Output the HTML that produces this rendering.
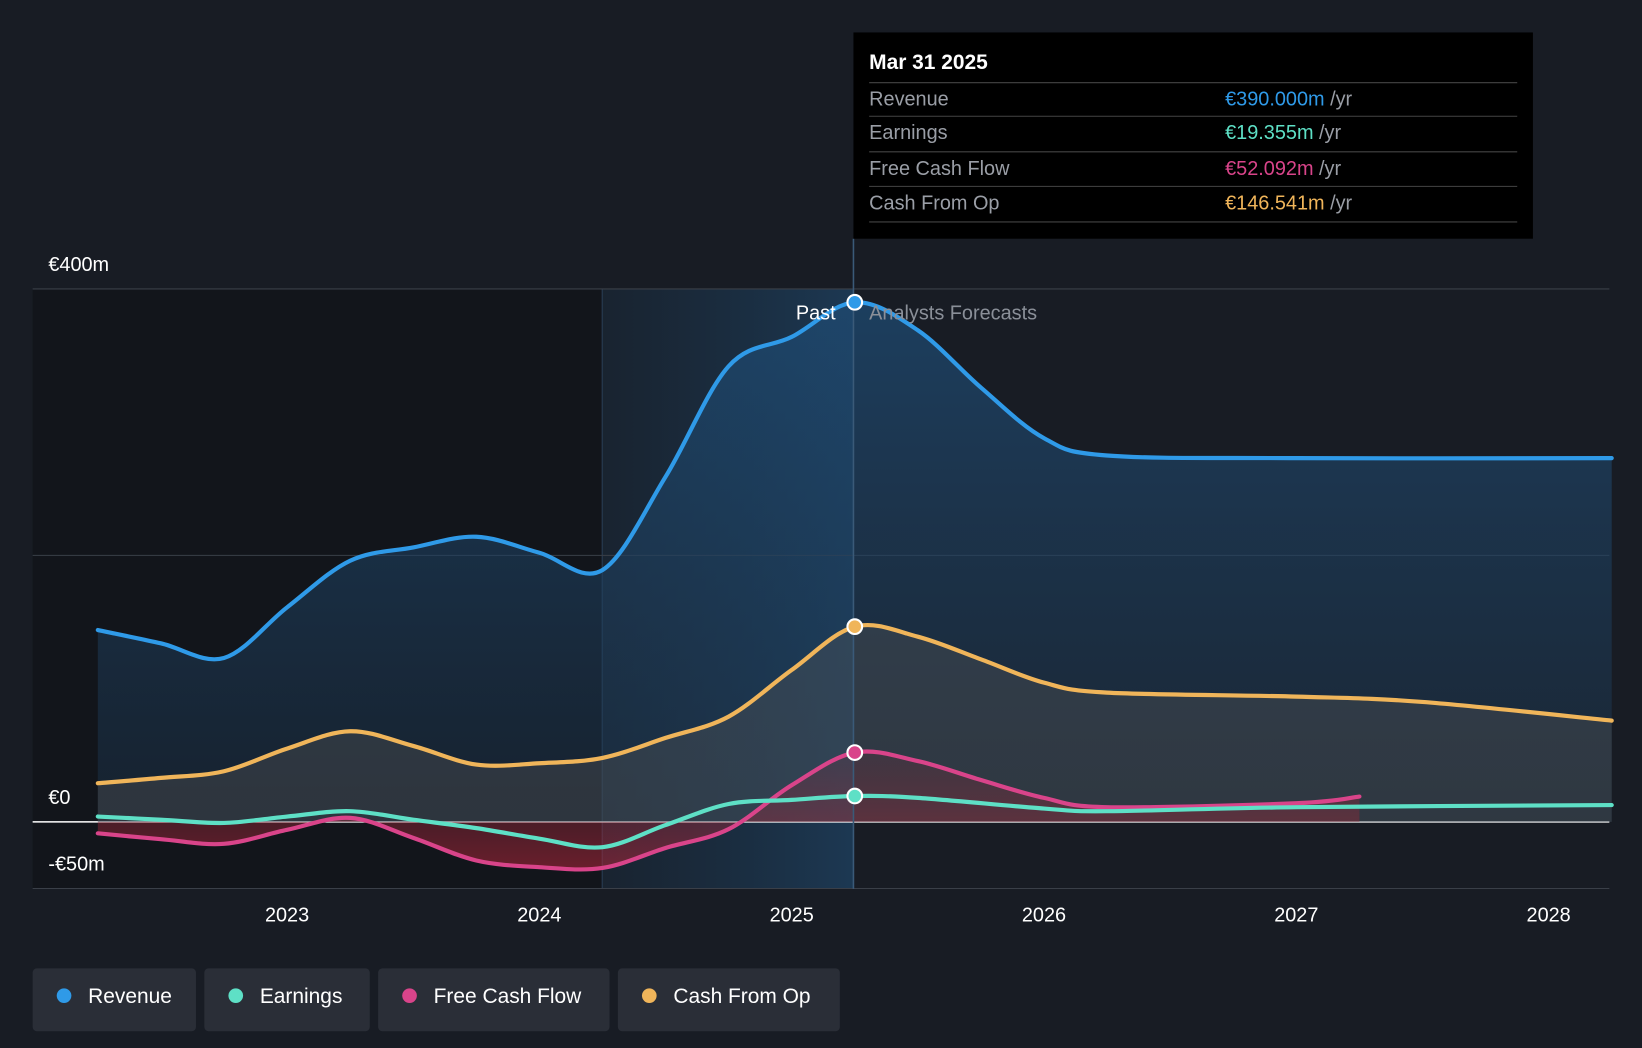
<!DOCTYPE html>
<html><head><meta charset="utf-8"><style>
html,body{margin:0;padding:0;background:#181c24;}
svg{display:block;font-family:"Liberation Sans",sans-serif;}
</style></head><body>
<svg id="chart" width="1642" height="1048" viewBox="0 0 1568 1001">
<defs>
<linearGradient id="hl" x1="0" x2="1" y1="0" y2="0"><stop offset="0" stop-color="#1b3a55" stop-opacity="0.25"/><stop offset="1" stop-color="#1f4b72" stop-opacity="0.6"/></linearGradient>
<linearGradient id="revfill" x1="0" x2="0" y1="0" y2="1"><stop offset="0" stop-color="#1e4a72" stop-opacity="0.75"/><stop offset="1" stop-color="#1e3a55" stop-opacity="0.35"/></linearGradient>
<linearGradient id="fcffill" x1="0" x2="0" y1="0" y2="1"><stop offset="0" stop-color="#7a2a3a" stop-opacity="0.2"/><stop offset="1" stop-color="#b3263a" stop-opacity="0.55"/></linearGradient>
</defs>
<rect width="1568" height="1001" fill="#181c24"/>
<rect x="31" y="276" width="544" height="573" fill="#12151b"/>
<rect x="575" y="276" width="240" height="573" fill="url(#hl)"/>
<line x1="575" x2="575" y1="276" y2="849" stroke="#2a3f55" stroke-width="1"/>
<g id="grid"></g>
<g id="areas"></g>
<g id="lines"></g>
<line x1="815" x2="815" y1="228" y2="849" stroke="#3a5a78" stroke-width="1.5"/>
<g id="dots"></g>
<text x="798" y="305" fill="#ffffff" font-size="19" text-anchor="end">Past</text>
<text x="830" y="305" fill="#8a8f98" font-size="19">Analysts Forecasts</text>
<g id="xticks"></g>
<g>
<rect x="815" y="31" width="649" height="197" fill="#000"/>
<text x="830" y="66" fill="#fff" font-size="20" font-weight="bold">Mar 31 2025</text>
<line x1="830" x2="1449" y1="79" y2="79" stroke="#444"/>
<text x="830" y="101" fill="#9a9ea6" font-size="19">Revenue</text>
<text x="1170" y="101" font-size="19"><tspan fill="#2f9ae8">€390.000m</tspan><tspan fill="#9a9ea6"> /yr</tspan></text>
<line x1="830" x2="1449" y1="111" y2="111" stroke="#444"/>
<text x="830" y="133" fill="#9a9ea6" font-size="19">Earnings</text>
<text x="1170" y="133" font-size="19"><tspan fill="#5ee0c6">€19.355m</tspan><tspan fill="#9a9ea6"> /yr</tspan></text>
<line x1="830" x2="1449" y1="145" y2="145" stroke="#444"/>
<text x="830" y="167" fill="#9a9ea6" font-size="19">Free Cash Flow</text>
<text x="1170" y="167" font-size="19"><tspan fill="#d9448a">€52.092m</tspan><tspan fill="#9a9ea6"> /yr</tspan></text>
<line x1="830" x2="1449" y1="178" y2="178" stroke="#444"/>
<text x="830" y="200" fill="#9a9ea6" font-size="19">Cash From Op</text>
<text x="1170" y="200" font-size="19"><tspan fill="#f0b55a">€146.541m</tspan><tspan fill="#9a9ea6"> /yr</tspan></text>
<line x1="830" x2="1449" y1="212" y2="212" stroke="#444"/>
</g>
<g>
<g><rect x="31" y="925" width="156" height="60" rx="4" fill="#2a2e37"/><circle cx="61" cy="951" r="7" fill="#2f9ae8"/><text x="84" y="958" fill="#fff" font-size="20">Revenue</text></g>
<g><rect x="195" y="925" width="158" height="60" rx="4" fill="#2a2e37"/><circle cx="225" cy="951" r="7" fill="#5ee0c6"/><text x="248" y="958" fill="#fff" font-size="20">Earnings</text></g>
<g><rect x="361" y="925" width="221" height="60" rx="4" fill="#2a2e37"/><circle cx="391" cy="951" r="7" fill="#d9448a"/><text x="414" y="958" fill="#fff" font-size="20">Free Cash Flow</text></g>
<g><rect x="590" y="925" width="212" height="60" rx="4" fill="#2a2e37"/><circle cx="620" cy="951" r="7" fill="#f0b55a"/><text x="643" y="958" fill="#fff" font-size="20">Cash From Op</text></g>
</g>
</svg>
<script>
const years=[2023,2024,2025,2026,2027,2028];
const yTicks=[400,200,0,-50];
const yTickLabels=["€400m","","€0","-€50m"];
const revT=[2022.25,2022.5,2022.75,2023,2023.25,2023.5,2023.75,2024,2024.25,2024.5,2024.75,2025,2025.25,2025.5,2025.75,2026,2026.25,2027,2028.25];
const revV=[144,134,123,161,196,206,214,202,189,259,342,364,390,369,326,288,275,273,273];
const cfoT=[2022.25,2022.5,2022.75,2023,2023.25,2023.5,2023.75,2024,2024.25,2024.5,2024.75,2025,2025.25,2025.5,2025.75,2026,2026.25,2027,2027.5,2028.25];
const cfoV=[29,33,38,55,68,57,43,44,48,63,79,114,146.5,139,122,104.5,97,94,90,76];
const fcfT=[2022.25,2022.5,2022.75,2023,2023.25,2023.5,2023.75,2024,2024.25,2024.5,2024.75,2025,2025.25,2025.5,2025.75,2026,2026.25,2027,2027.25];
const fcfV=[-8.6,-13,-16.5,-6,3,-12,-29,-34,-34.6,-19.6,-5.5,27.5,52,45.6,31.4,18,11,14,19];
const ernT=[2022.25,2022.5,2022.75,2023,2023.25,2023.5,2023.75,2024,2024.25,2024.5,2024.75,2025,2025.25,2025.5,2026,2026.25,2027,2028.25];
const ernV=[4,1.6,-0.8,4,8,1.6,-4.7,-12.6,-19,-2.4,13.4,16.5,19.4,18,10,8,11,12.6];
const cursorT=2025.25;

const X=t=>274+(t-2023)*241;
const Y=v=>785-v*1.2725;
const NS="http://www.w3.org/2000/svg";
function mk(tag,attrs,parent){const e=document.createElementNS(NS,tag);for(const k in attrs)e.setAttribute(k,attrs[k]);parent.appendChild(e);return e;}
function path(T,V){
  const p=T.map((t,i)=>[X(t),Y(V[i])]);
  let d="M"+p[0][0]+","+p[0][1];
  for(let i=0;i<p.length-1;i++){
    const p0=p[Math.max(i-1,0)],p1=p[i],p2=p[i+1],p3=p[Math.min(i+2,p.length-1)];
    const c1=[p1[0]+(p2[0]-p0[0])/6,p1[1]+(p2[1]-p0[1])/6];
    const c2=[p2[0]-(p3[0]-p1[0])/6,p2[1]-(p3[1]-p1[1])/6];
    d+=` C${c1[0]},${c1[1]} ${c2[0]},${c2[1]} ${p2[0]},${p2[1]}`;
  }
  return d;
}
const grid=document.getElementById('grid');
yTicks.forEach((v,i)=>{
  const l=mk('line',{x1:31,x2:1537,y1:Y(v),y2:Y(v),stroke:v===0?'#ffffff':'#3a3f48','stroke-width':v===0?1.5:1},grid);
  
  
  if(yTickLabels[i]){
    const t=mk('text',{x:46,y:Y(v)+(v===-50?48:-17)+ (v===-50?-6:0),fill:'#fff','font-size':19},grid);
    if(v===-50){t.setAttribute('y',Y(v)-17);}
    t.textContent=yTickLabels[i];
    
    
  }
});
const xt=document.getElementById('xticks');
years.forEach(y=>{
  const t=mk('text',{x:X(y),y:880,fill:'#fff','font-size':19,'text-anchor':'middle'},xt);
  t.textContent=y;
  
  
});
const areas=document.getElementById('areas'),lines=document.getElementById('lines'),dots=document.getElementById('dots');
function area(T,V,fill,name){
  const d=path(T,V)+` L${X(T[T.length-1])},${Y(0)} L${X(T[0])},${Y(0)} Z`;
  const a=mk('path',{d:d,fill:fill},areas);
  
  
}
area(revT,revV,'url(#revfill)','revenue-area');
area(cfoT,cfoV,'rgba(90,90,90,0.35)','cash-from-op-area');
area(fcfT,fcfV,'url(#fcffill)','free-cash-flow-area');
function line(T,V,col,name){
  const l=mk('path',{d:path(T,V),fill:'none',stroke:col,'stroke-width':4,'stroke-linecap':'round'},lines);
  
  
  const i=T.indexOf(cursorT);
  if(i>=0){const c=mk('circle',{cx:X(cursorT),cy:Y(V[i]),r:7,fill:col,stroke:'#fff','stroke-width':2},dots);
    
    }
}
line(cfoT,cfoV,'#f0b55a','cash-from-op-line');
line(fcfT,fcfV,'#d9448a','free-cash-flow-line');
line(ernT,ernV,'#5ee0c6','earnings-line');
line(revT,revV,'#2f9ae8','revenue-line');
</script>
</body></html>
